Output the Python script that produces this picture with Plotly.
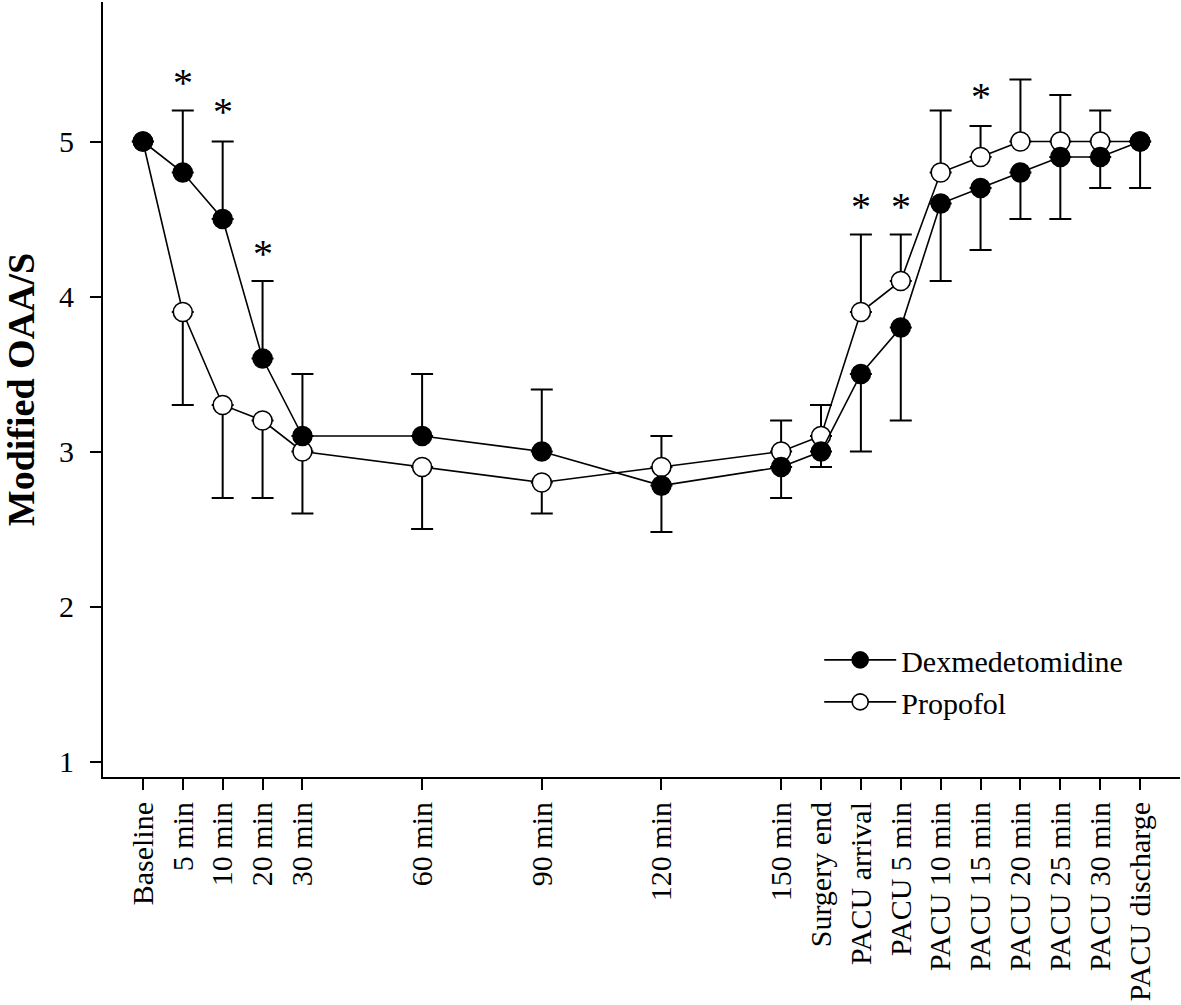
import plotly.graph_objects as go

# ---- data ----
time_labels = ["Baseline", "5 min", "10 min", "20 min", "30 min", "60 min", "90 min",
               "120 min", "150 min", "Surgery end", "PACU arrival", "PACU 5 min",
               "PACU 10 min", "PACU 15 min", "PACU 20 min", "PACU 25 min",
               "PACU 30 min", "PACU discharge"]
time_pos = [0, 1, 2, 3, 4, 7, 10, 13, 16, 17, 18, 19, 20, 21, 22, 23, 24, 25]

dex_mean = [5.0, 4.8, 4.5, 3.6, 3.1, 3.1, 3.0, 2.78, 2.9, 3.0, 3.5, 3.8, 4.6, 4.7, 4.8, 4.9, 4.9, 5.0]
dex_err_up = [0, 0.4, 0.5, 0.5, 0.4, 0.4, 0.4, 0, 0, 0, 0, 0, 0, 0, 0, 0, 0, 0]
dex_err_down = [0, 0, 0, 0, 0, 0, 0, 0.3, 0.2, 0.1, 0.5, 0.6, 0.5, 0.4, 0.3, 0.4, 0.2, 0.3]

prop_mean = [5.0, 3.9, 3.3, 3.2, 3.0, 2.9, 2.8, 2.9, 3.0, 3.1, 3.9, 4.1, 4.8, 4.9, 5.0, 5.0, 5.0, 5.0]
prop_err_up = [0, 0, 0, 0, 0, 0, 0, 0.2, 0.2, 0.2, 0.5, 0.3, 0.4, 0.2, 0.4, 0.3, 0.2, 0]
prop_err_down = [0, 0.6, 0.6, 0.5, 0.4, 0.4, 0.2, 0, 0, 0, 0, 0, 0, 0, 0, 0, 0, 0]

sig_labels = ["5 min", "10 min", "20 min", "PACU arrival", "PACU 5 min", "PACU 15 min"]
sig_y = [5.40, 5.21, 4.30, 4.60, 4.60, 5.31]

y_ticks = [1, 2, 3, 4, 5]

# ---- figure ----
FONT = "Liberation Serif"
pos_of = dict(zip(time_labels, time_pos))

fig = go.Figure()

fig.add_trace(go.Scatter(
    x=time_pos, y=prop_mean, name="Propofol", mode="lines+markers",
    line=dict(color="black", width=1.6),
    marker=dict(symbol="circle", size=19, color="white", line=dict(color="black", width=1.6)),
    error_y=dict(type="data", symmetric=False, array=prop_err_up, arrayminus=prop_err_down,
                 color="black", thickness=2, width=11),
    legendrank=2,
))
fig.add_trace(go.Scatter(
    x=time_pos, y=dex_mean, name="Dexmedetomidine", mode="lines+markers",
    line=dict(color="black", width=1.6),
    marker=dict(symbol="circle", size=19, color="black", line=dict(color="black", width=1.6)),
    error_y=dict(type="data", symmetric=False, array=dex_err_up, arrayminus=dex_err_down,
                 color="black", thickness=2, width=11),
    legendrank=1,
))

for lab, yv in zip(sig_labels, sig_y):
    fig.add_annotation(x=pos_of[lab], y=yv, text="*", showarrow=False,
                       font=dict(family=FONT, size=40, color="black"),
                       xanchor="center", yanchor="middle", yshift=-3)

fig.update_layout(
    width=1181, height=1005,
    margin=dict(l=103, r=1, t=2, b=228, autoexpand=False),
    paper_bgcolor="white", plot_bgcolor="white",
    font=dict(family=FONT, size=30, color="black"),
    showlegend=True,
    legend=dict(x=0.665, y=0.124, xanchor="left", yanchor="middle",
                bgcolor="rgba(0,0,0,0)", font=dict(family=FONT, size=30, color="black"),
                itemwidth=72, tracegroupgap=0),
)
fig.update_xaxes(
    range=[-1, 26], tickvals=time_pos, ticktext=time_labels, tickangle=-90,
    showline=True, linecolor="black", linewidth=2, mirror=False,
    ticks="outside", ticklen=11, tickwidth=2, tickcolor="black",
    showgrid=False, zeroline=False, automargin=False,
    tickfont=dict(family=FONT, size=30, color="black"),
)
fig.update_yaxes(
    range=[0.9, 5.9], tickvals=y_ticks,
    showline=True, linecolor="black", linewidth=2, mirror=False,
    ticks="outside", ticklen=11, tickwidth=2, tickcolor="black",
    showgrid=False, zeroline=False, automargin=False, ticklabelstandoff=10,
    tickfont=dict(family=FONT, size=30, color="black"),
    title=dict(text="<b>Modified OAA/S</b>", font=dict(family=FONT, size=38, color="black"),
               standoff=18),
)

fig.write_html("out.html", config={"displayModeBar": False},
               post_script="document.body.style.margin='0';")
